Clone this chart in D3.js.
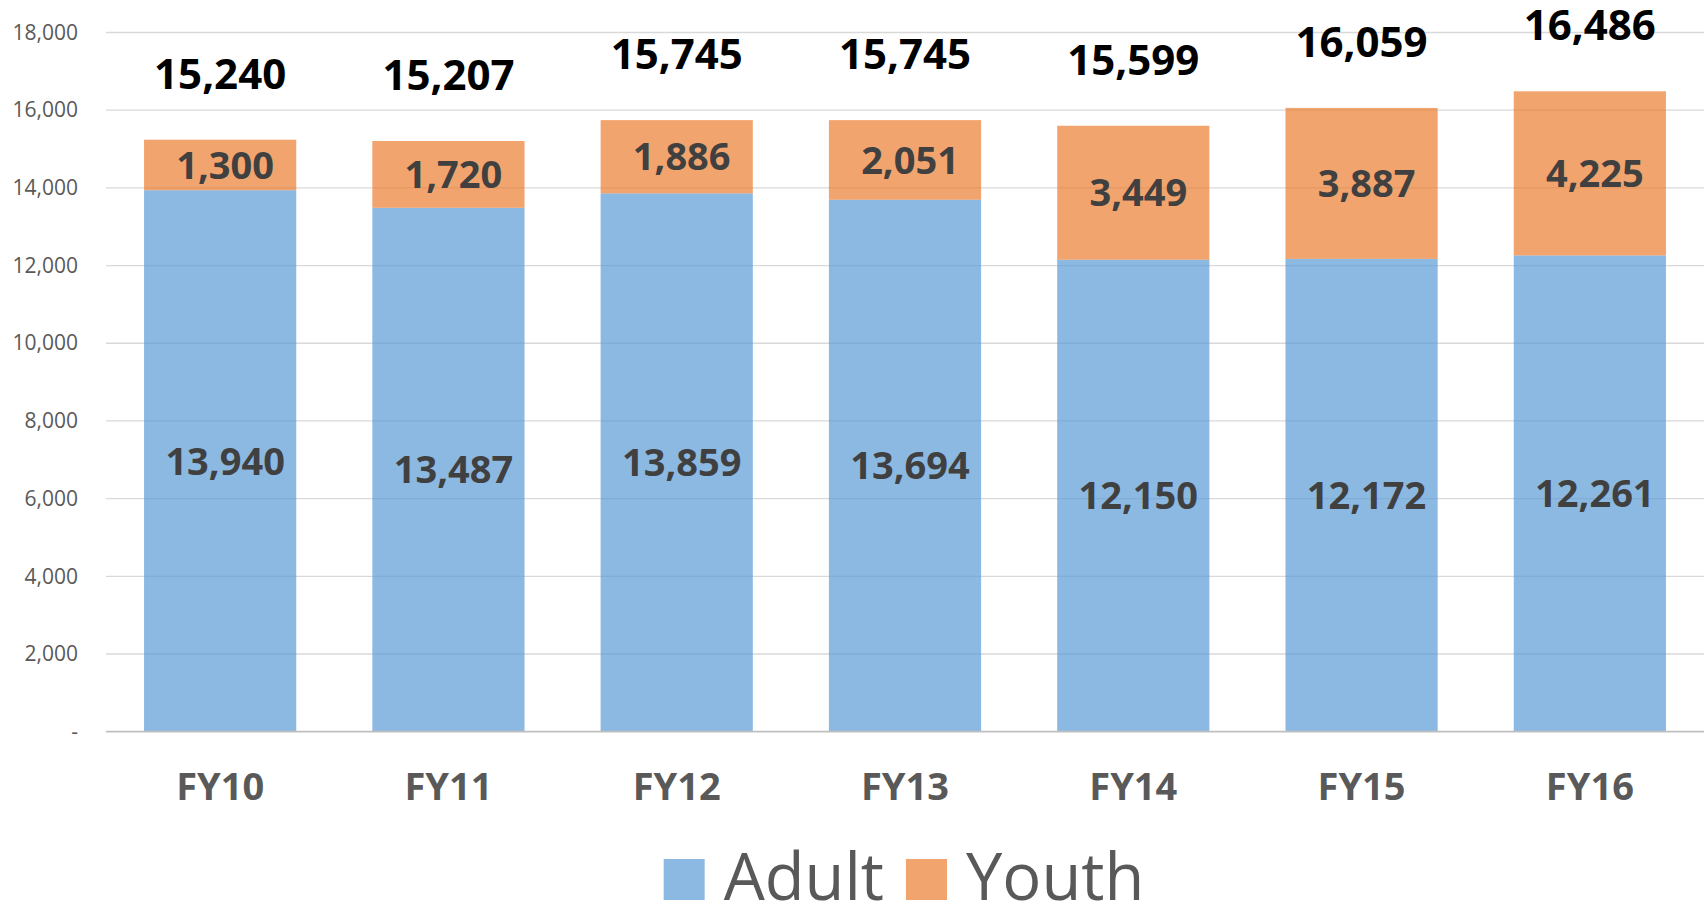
<!DOCTYPE html>
<html>
<head>
<meta charset="utf-8">
<script src="https://cdn.jsdelivr.net/npm/d3@7"></script>
<style>
  html, body { margin: 0; padding: 0; background: #fff; }
  svg { display: block; font-family: "Open Sans", "DejaVu Sans", sans-serif; }
</style>
</head>
<body>
<svg id="chart" width="1708" height="905"></svg>
<script>
const categories = ["FY10", "FY11", "FY12", "FY13", "FY14", "FY15", "FY16"];
const adult = [13940, 13487, 13859, 13694, 12150, 12172, 12261];
const youth = [1300, 1720, 1886, 2051, 3449, 3887, 4225];
const totals = [15240, 15207, 15745, 15745, 15599, 16059, 16486];
const yTicks = [0, 2000, 4000, 6000, 8000, 10000, 12000, 14000, 16000, 18000];
const seriesNames = ["Adult", "Youth"];
const seriesColors = ["#5B9BD5", "#ED7D31"];

(function () {
const svg = d3.select("#chart");
const plotL = 106, plotR = 1704, plotT = 32.5, plotB = 731.7;

const x = d3.scaleBand().domain(categories).range([plotL, plotR])
  .paddingInner(1/3).paddingOuter(1/6);
const y = d3.scaleLinear().domain([0, 18000]).range([plotB, plotT]);
const fmt = d3.format(",");

// gridlines
const gridG = svg.append("g");
gridG.selectAll("line").data(yTicks.filter(t => t > 0)).join("line")
  .attr("x1", plotL).attr("x2", plotR)
  .attr("y1", d => y(d)).attr("y2", d => y(d))
  .attr("stroke", "#D9D9D9").attr("stroke-width", 1.3);

// y axis labels
const yAxis = d3.axisLeft(y).tickValues(yTicks).tickSize(0).tickPadding(0)
  .tickFormat(d => d === 0 ? "-" : fmt(d));
const yg = svg.append("g").attr("transform", `translate(78,0)`).call(yAxis);
yg.select(".domain").remove();
yg.selectAll("text").attr("font-size", 21).attr("fill", "#595959")
  .attr("font-family", '"Open Sans", sans-serif');

// stacked data
const rows = categories.map((c, i) => ({ cat: c, Adult: adult[i], Youth: youth[i], total: totals[i] }));
const stack = d3.stack().keys(seriesNames)(rows);

const layers = svg.append("g").selectAll("g").data(stack).join("g")
  .attr("fill", (d, i) => seriesColors[i]).attr("fill-opacity", 0.7);
layers.selectAll("rect").data(d => d).join("rect")
  .attr("x", d => x(d.data.cat))
  .attr("width", x.bandwidth())
  .attr("y", d => y(d[1]))
  .attr("height", d => y(d[0]) - y(d[1]));

// baseline axis
svg.append("line").attr("x1", plotL).attr("x2", plotR)
  .attr("y1", y(0)).attr("y2", y(0))
  .attr("stroke", "#BFBFBF").attr("stroke-width", 1.8);

// segment labels
stack.forEach((layer) => {
  svg.append("g").selectAll("text").data(layer).join("text")
    .attr("x", d => x(d.data.cat) + x.bandwidth() / 2 + 5)
    .attr("y", d => (y(d[0]) + y(d[1])) / 2)
    .attr("dy", "0.36em")
    .attr("text-anchor", "middle")
    .attr("font-size", 38).attr("font-weight", 700).attr("fill", "#404040")
    .text(d => fmt(d[1] - d[0]));
});

// total labels
svg.append("g").selectAll("text").data(rows).join("text")
  .attr("x", d => x(d.cat) + x.bandwidth() / 2)
  .attr("y", d => y(d.total) - 51)
  .attr("text-anchor", "middle")
  .attr("font-size", 42).attr("font-weight", 700).attr("fill", "#000")
  .text(d => fmt(d.total));

// x axis labels
const xAxis = d3.axisBottom(x).tickSize(0).tickPadding(0);
const xg = svg.append("g").attr("transform", `translate(0,${y(0)})`).call(xAxis);
xg.select(".domain").remove();
xg.selectAll("text").attr("dy", null).attr("y", 68)
  .attr("font-size", 38).attr("font-weight", 700).attr("fill", "#595959")
  .attr("font-family", '"Open Sans", sans-serif');

// legend
const legend = svg.append("g");
const sq = 41, gapSq = 19, gapItem = 22, legendBase = 900;
let cx = 0;
seriesNames.forEach((name, i) => {
  const g = legend.append("g");
  g.append("rect").attr("x", 0).attr("y", legendBase - sq).attr("width", sq).attr("height", sq)
    .attr("fill", seriesColors[i]).attr("fill-opacity", 0.7);
  const t = g.append("text").attr("x", sq + gapSq).attr("y", legendBase)
    .attr("font-size", 65).attr("fill", "#595959").text(name);
  const w = sq + gapSq + t.node().getComputedTextLength();
  g.attr("transform", `translate(${cx},0)`);
  cx += w + gapItem;
});
const totalW = cx - gapItem;
legend.attr("transform", `translate(${904 - totalW / 2},0)`);
})();
</script>
</body>
</html>
